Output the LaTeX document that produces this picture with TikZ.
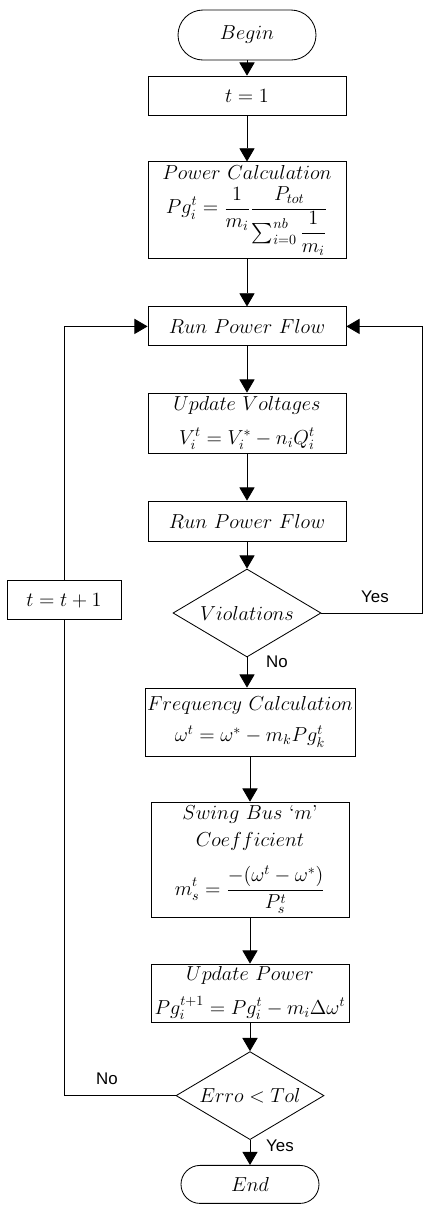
\documentclass[tikz,border=0pt]{standalone}
\usepackage{amsmath}
\usepackage{fontspec}
\usepackage{tikz}
\usetikzlibrary{shapes.geometric,arrows.meta}
\newfontfamily\labelfont{Liberation Sans}

\tikzset{
    procbox/.style={draw, line width=0.6pt, rectangle, minimum width=4.95cm, align=center, inner sep=1pt},
    termbox/.style={draw, line width=0.6pt, rectangle, rounded corners=#1, minimum height=2*#1, minimum width=3.45cm},
    decbox/.style={draw, line width=0.6pt, diamond, shape aspect=2.6, minimum width=3.7cm, minimum height=2.2cm, inner sep=0pt},
    answer/.style={font=\labelfont\fontsize{12}{14}\selectfont}
}

\begin{document}
\begin{tikzpicture}[>={Triangle[length=0.33cm,width=0.38cm]}, line width=0.6pt,
    font=\fontsize{14.4}{19}\selectfont]
    \useasboundingbox (0,0) rectangle (10.625,-30.125);

    \node[termbox=0.625cm] (begin) at (6.175,-0.875) {$Begin$};
    \node[procbox, minimum height=0.975cm] (tone) at (6.175,-2.39) {$t=1$};
    \node[procbox, minimum height=2.425cm] (pcalc) at (6.175,-5.26)
        {$Power\ Calculation$\\[4pt]
         $\displaystyle Pg_i^t=\frac{1}{m_i}\frac{P_{tot}}{\textstyle\sum_{i=0}^{nb}\dfrac{1}{m_i}}$};
    \node[procbox, minimum height=0.975cm] (flowa) at (6.175,-8.16) {$Run\ Power\ Flow$};
    \node[procbox, minimum height=1.5cm] (volt) at (6.175,-10.575)
        {$Update\ Voltages$\\[5pt] $V_i^t=V_i^*-n_iQ_i^t$};
    \node[procbox, minimum height=1.0cm] (flowb) at (6.175,-13.025) {$Run\ Power\ Flow$};
    \node[decbox] (viol) at (6.175,-15.325) {$Violations$};
    \node[procbox, minimum width=5.25cm, minimum height=1.7cm] (freq) at (6.25,-18.05)
        {$Frequency\ Calculation$\\[3pt] $\omega^t=\omega^*-m_kPg_k^t$};
    \node[procbox, minimum height=2.875cm] (swing) at (6.25,-21.49)
        {$Swing\ Bus$ `$m$'\\ $Coefficient$\\[10pt]
         $\displaystyle m_s^t=\frac{-(\omega^t-\omega^*)}{P_s^t}$};
    \node[procbox, minimum height=1.45cm] (upow) at (6.25,-24.825)
        {$Update\ Power$\\[5pt] $Pg_i^{t+1}=Pg_i^t-m_i\Delta\omega^t$};
    \node[decbox] (err) at (6.25,-27.39) {$Erro<Tol$};
    \node[termbox=0.475cm] (end) at (6.25,-29.61) {$End$};

    \node[procbox, minimum width=2.85cm, minimum height=0.975cm] (tinc) at (1.6,-15.01) {$t=t+1$};
    \coordinate (rside) at (10.55,-15.325);

    \draw[->] (begin) -- (tone);
    \draw[->] (tone) -- (pcalc);
    \draw[->] (pcalc) -- (flowa);
    \draw[->] (flowa) -- (volt);
    \draw[->] (volt) -- (flowb);
    \draw[->] (flowb) -- (viol);
    \draw[->] (viol) -- (viol |- freq.north);
    \draw[->] (freq) -- (swing);
    \draw[->] (swing) -- (upow);
    \draw[->] (upow) -- (err);
    \draw[->] (err) -- (end);

    % loops back to the power flow
    \draw[->] (viol.east) -- (rside) |- (flowa.east);
    \draw (err.west) -| (tinc.south);
    \draw[->] (tinc.north) |- (flowa.west);

    \node[answer] (yesa) at (9.375,-14.925) {Yes};
    \node[answer] (noa) at (6.925,-16.55) {No};
    \node[answer] (nob) at (2.675,-26.975) {No};
    \node[answer] (yesb) at (7.0,-28.65) {Yes};
\end{tikzpicture}
\end{document}
